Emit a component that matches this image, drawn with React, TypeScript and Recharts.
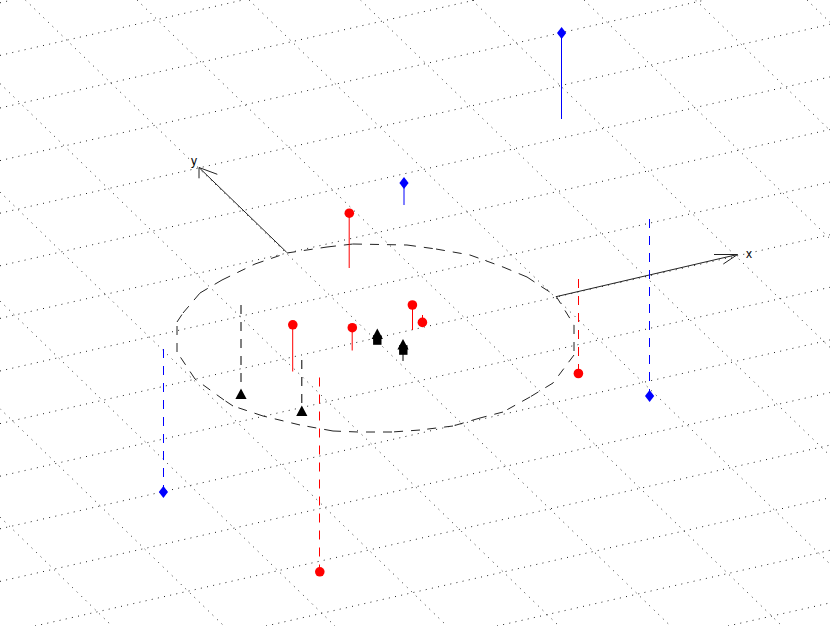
import React from "react";
import { ScatterChart, Scatter, XAxis, YAxis, ReferenceLine } from "recharts";

type P = { x: number; y: number; label?: string };
const seg = (a: number[]): P[] => [{ x: a[0], y: a[1] }, { x: a[2], y: a[3] }];

// dotted lattice on the tilted plane: [x1, y1, x2, y2]
const gridRows: number[][] = [
  [0, 2.8, 12, 0], [0, 55.4, 243, 0], [0, 108, 475, 0], [0, 160.6, 705, 0],
  [0, 213.2, 830, 24.3], [0, 265.8, 830, 76.9], [0, 318.4, 830, 129.5], [0, 371, 830, 182.1],
  [0, 423.6, 830, 234.7], [0, 476.2, 830, 287.3], [0, 528.8, 830, 339.9], [0, 581.4, 830, 392.5],
  [35, 626, 830, 445.1], [266, 626, 830, 497.7], [497, 626, 830, 550.3], [728, 626, 830, 602.9],
];
const gridCols: number[][] = [
  [0, 517, 112, 626], [0, 408.7, 224, 626], [0, 301, 335, 626], [0, 192, 447, 626],
  [0, 83.5, 559, 626], [25.4, 0, 670.5, 626], [137, 0, 782, 626], [249, 0, 830, 564],
  [360.5, 0, 830, 455.6], [472, 0, 830, 347.4], [584, 0, 830, 238.7], [695.6, 0, 830, 130.4],
  [807, 0, 830, 22.3],
];

// dashed ellipse outline, drawn edge by edge so the dash restarts at each corner
const outline: number[][] = [
  [556, 296], [574, 325], [574, 355], [553, 383], [530, 397], [503, 412], [480, 418], [453, 426],
  [420, 430], [392, 432], [358, 432], [333, 431], [300, 425], [263, 416], [233, 406], [224, 400],
  [195, 379], [177, 352], [177, 322], [183, 313], [200, 293], [222, 280], [255, 264], [287, 253],
  [327, 247], [353, 244], [407, 245], [436, 249], [470, 255], [503, 267], [527, 277], [542, 287], [556, 296],
];

// axis arrows
const xArrow: P[] = [{ x: 556, y: 296.7 }, { x: 737.5, y: 254.5 }];
const xBarbs: P[] = [{ x: 714, y: 254.5 }, { x: 737.5, y: 254.5 }, { x: 723.3, y: 264 }];
const yArrow: P[] = [{ x: 286.7, y: 252.3 }, { x: 199, y: 167.5 }];
const yBarbs: P[] = [{ x: 199, y: 178.3 }, { x: 199, y: 167.5 }, { x: 217.3, y: 174.3 }];
const axisLabels: P[] = [{ x: 749, y: 254, label: "x" }, { x: 194, y: 161, label: "y" }];

// stems: [x, yFrom, x, yTo]
const redSolid = [[349.2, 213, 349.2, 268], [292.7, 325, 292.7, 371.5], [352.2, 327.5, 352.2, 350.5], [412.5, 305, 412.5, 330], [422.5, 322.5, 422.5, 315]];
const redDashed = [[319.5, 377.5, 319.5, 572], [578.5, 279, 578.5, 374]];
const blueSolid = [[561.5, 33, 561.5, 119], [404, 183, 404, 205]];
const blueDashed = [[163.5, 349, 163.5, 492], [649.5, 219, 649.5, 396]];
const blackDashed = [[241, 305, 241, 395], [301.8, 360, 301.8, 412]];
const blackSolid = [[403, 349, 403, 361]];

// markers
const redPoints: P[] = [
  { x: 349.3, y: 213.2 }, { x: 292.8, y: 324.8 }, { x: 352.3, y: 327.7 }, { x: 412.4, y: 305 },
  { x: 422.4, y: 322.4 }, { x: 319.8, y: 571.8 }, { x: 578.4, y: 373.5 },
];
const bluePoints: P[] = [{ x: 561.6, y: 33 }, { x: 404, y: 183 }, { x: 163.4, y: 492 }, { x: 649.6, y: 396 }];
const triangles: P[] = [{ x: 241, y: 395 }, { x: 301.8, y: 412 }, { x: 377.3, y: 335 }, { x: 403, y: 345.5 }];
const squares: P[] = [{ x: 377.3, y: 340 }, { x: 403.3, y: 350 }];

const none = () => null;
const dot = (p: any) => <circle cx={p.cx} cy={p.cy} r={4.8} fill="#ff0000" />;
const diamond = (p: any) => (
  <polygon points={`${p.cx},${p.cy - 6} ${p.cx + 4.6},${p.cy} ${p.cx},${p.cy + 6} ${p.cx - 4.6},${p.cy}`} fill="#0000ff" />
);
const triangle = (p: any) => (
  <polygon points={`${p.cx},${p.cy - 6.5} ${p.cx + 5.6},${p.cy + 4} ${p.cx - 5.6},${p.cy + 4}`} fill="#000" />
);
const square = (p: any) => <rect x={p.cx - 4.2} y={p.cy - 4.8} width={8.4} height={9.6} fill="#000" />;
const textMark = (p: any) => (
  <text x={p.cx} y={p.cy} textAnchor="middle" dominantBaseline="central" fontFamily="'Liberation Sans', Arial, sans-serif" fontSize={12} fill="#000">
    {p.payload.label}
  </text>
);

const line = (key: string, data: P[], stroke: string, dash?: string) => (
  <Scatter
    key={key}
    data={data}
    shape={none}
    line={{ stroke, strokeWidth: 1, strokeDasharray: dash }}
    lineJointType="linear"
    isAnimationActive={false}
  />
);

export default function App() {
  return (
    <div style={{ position: "absolute", left: 0, top: 0, width: 830, height: 626, background: "#fff" }}>
      <ScatterChart width={830} height={626} margin={{ top: 0, right: 0, bottom: 0, left: 0 }}>
        <XAxis type="number" dataKey="x" domain={[0, 830]} hide />
        <YAxis type="number" dataKey="y" domain={[0, 626]} reversed hide />
        {[...gridRows, ...gridCols].map((g, i) => (
          <ReferenceLine key={`g${i}`} segment={seg(g) as any} stroke="#222" strokeWidth={1} strokeDasharray="1 5.3" />
        ))}
        {outline.slice(1).map((v, i) => line(`o${i}`, seg([...outline[i], ...v]), "#222", "9 8"))}
        {line("xa", xArrow, "#222")}
        {line("xb", xBarbs, "#222")}
        {line("ya", yArrow, "#222")}
        {line("yb", yBarbs, "#222")}
        {redSolid.map((s, i) => line(`rs${i}`, seg(s), "#ff0000"))}
        {redDashed.map((s, i) => line(`rd${i}`, seg(s), "#ff0000", "9 8"))}
        {blueSolid.map((s, i) => line(`bs${i}`, seg(s), "#0000ff"))}
        {blueDashed.map((s, i) => line(`bd${i}`, seg(s), "#0000ff", "9 8"))}
        {blackDashed.map((s, i) => line(`kd${i}`, seg(s), "#000", "9 8"))}
        {blackSolid.map((s, i) => line(`ks${i}`, seg(s), "#000"))}
        <Scatter data={redPoints} shape={dot} isAnimationActive={false} />
        <Scatter data={bluePoints} shape={diamond} isAnimationActive={false} />
        <Scatter data={squares} shape={square} isAnimationActive={false} />
        <Scatter data={triangles} shape={triangle} isAnimationActive={false} />
        <Scatter data={axisLabels} shape={textMark} isAnimationActive={false} />
      </ScatterChart>
    </div>
  );
}
